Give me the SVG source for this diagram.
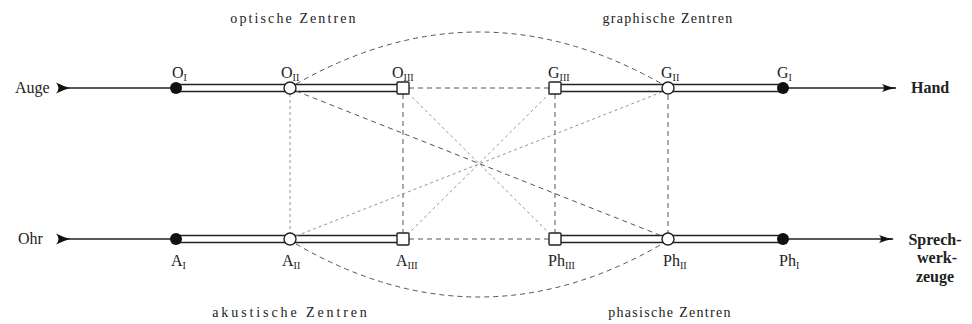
<svg xmlns="http://www.w3.org/2000/svg" width="972" height="324" viewBox="0 0 972 324">
<defs>
<marker id="arr" markerWidth="16" markerHeight="10" refX="14" refY="5" orient="auto" markerUnits="userSpaceOnUse">
<path d="M0,1 Q7,4 15,5 Q7,6 0,9 Q4,5 0,1 Z" fill="#111"/>
</marker>
</defs>
<style>
.head{font-size:14px;letter-spacing:1.3px}
.wide{letter-spacing:2.1px}
.wider{letter-spacing:2.9px}
.lab{font-size:16px}
.sub{font-size:10px}
.side{font-size:16px}
.bold{font-size:16px;font-weight:bold}
.pipe{stroke:#222;stroke-width:1.6;fill:none}
.wire{stroke:#222;stroke-width:1.4;fill:none}
.dash{stroke:#555;stroke-width:1;fill:none;stroke-dasharray:5,4}
.fine{stroke:#888;stroke-width:0.9;fill:none;stroke-dasharray:3,3}
.open{fill:#fff;stroke:#222;stroke-width:1.4}
.solid{fill:#111}
.chev{fill:#111}
</style>

<g id="connectors">
<path class="wire" d="M62,88 H176"/>
<path class="chev" d="M56,82.5 Q63,86 70,88 Q63,90 56,93.5 Q61,88 56,82.5 Z"/>
<path class="wire" d="M783,88 H896" marker-end="url(#arr)"/>
<path class="wire" d="M62,239 H176"/>
<path class="chev" d="M56,233.5 Q63,237 70,239 Q63,241 56,244.5 Q61,239 56,233.5 Z"/>
<path class="wire" d="M783,239 H893" marker-end="url(#arr)"/>
<path class="pipe" d="M176,84.5 H403 M176,91.5 H403"/>
<path class="pipe" d="M555,84.5 H783 M555,91.5 H783"/>
<path class="pipe" d="M176,235.5 H403 M176,242.5 H403"/>
<path class="pipe" d="M555,235.5 H783 M555,242.5 H783"/>
<path class="dash" d="M409,88 H549"/>
<path class="dash" d="M409,239 H549"/>
<path class="fine" d="M290,94 V233"/>
<path class="dash" d="M403,94 V233"/>
<path class="dash" d="M555,94 V233"/>
<path class="dash" d="M668,95 V233"/>
<path class="dash" d="M296,84 Q479,-20 662,84"/>
<path class="dash" d="M296,244 Q479,350 662,244"/>
<path class="dash" d="M296,91 L662,236"/>
<path class="fine" d="M662,92 L296,236"/>
<path class="fine" d="M408,93 L550,234"/>
<path class="fine" d="M550,93 L408,234"/>
</g>

<g font-family="'Liberation Serif', 'DejaVu Serif', serif" fill="#222">
<g id="O1"><circle class="solid" cx="176" cy="88" r="6"/><text class="lab" x="172" y="78">O<tspan class="sub" dy="3">I</tspan></text></g>
<g id="O2"><circle class="open" cx="290" cy="88" r="6"/><text class="lab" x="281" y="78">O<tspan class="sub" dy="3">II</tspan></text></g>
<g id="O3"><rect class="open" x="397" y="82" width="12" height="12" rx="1"/><text class="lab" x="392" y="78">O<tspan class="sub" dy="3">III</tspan></text></g>
<g id="G3"><rect class="open" x="549" y="82" width="12" height="12" rx="1"/><text class="lab" x="548" y="78">G<tspan class="sub" dy="3">III</tspan></text></g>
<g id="G2"><circle class="open" cx="668" cy="88" r="6"/><text class="lab" x="661" y="78">G<tspan class="sub" dy="3">II</tspan></text></g>
<g id="G1"><circle class="solid" cx="783" cy="88" r="6"/><text class="lab" x="777" y="78">G<tspan class="sub" dy="3">I</tspan></text></g>

<g id="A1"><circle class="solid" cx="176" cy="239" r="6"/><text class="lab" x="171" y="266">A<tspan class="sub" dy="3">I</tspan></text></g>
<g id="A2"><circle class="open" cx="290" cy="239" r="6"/><text class="lab" x="282" y="266">A<tspan class="sub" dy="3">II</tspan></text></g>
<g id="A3"><rect class="open" x="397" y="233" width="12" height="12" rx="1"/><text class="lab" x="396" y="266">A<tspan class="sub" dy="3">III</tspan></text></g>
<g id="Ph3"><rect class="open" x="549" y="233" width="12" height="12" rx="1"/><text class="lab" x="548" y="266">Ph<tspan class="sub" dy="3">III</tspan></text></g>
<g id="Ph2"><circle class="open" cx="668" cy="239" r="6"/><text class="lab" x="663" y="266">Ph<tspan class="sub" dy="3">II</tspan></text></g>
<g id="Ph1"><circle class="solid" cx="783" cy="239" r="6"/><text class="lab" x="779" y="266">Ph<tspan class="sub" dy="3">I</tspan></text></g>

<g id="Auge"><text class="side" x="15" y="93">Auge</text></g>
<g id="Ohr"><text class="side" x="18" y="244">Ohr</text></g>
<g id="Hand"><text class="bold" x="911" y="93">Hand</text></g>
<g id="Sprechwerkzeuge"><text class="bold" text-anchor="middle" x="935" y="245">Sprech-</text><text class="bold" text-anchor="middle" x="937" y="263">werk-</text><text class="bold" text-anchor="middle" x="935" y="282">zeuge</text></g>

<g id="headings">
<text class="head wide" text-anchor="middle" x="294" y="23">optische Zentren</text>
<text class="head" text-anchor="middle" x="668" y="23">graphische Zentren</text>
<text class="head wider" text-anchor="middle" x="291" y="317">akustische Zentren</text>
<text class="head" text-anchor="middle" x="670" y="317">phasische Zentren</text>
</g>
</g>
</svg>
